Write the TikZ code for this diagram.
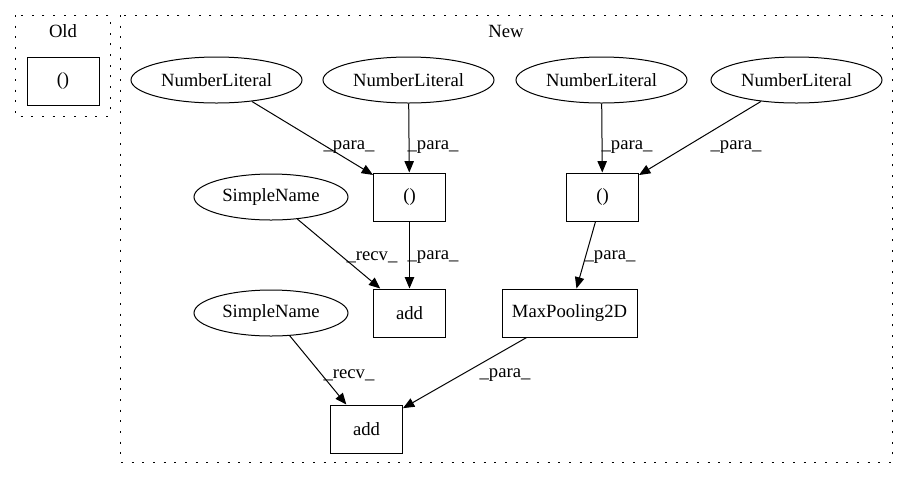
\documentclass[tikz,border=0pt]{standalone}
\usepackage{fontspec}
\setmainfont{Liberation Serif}
\usetikzlibrary{shapes.geometric,arrows.meta}
\begin{document}
\begin{tikzpicture}[x=0.75pt,y=-0.75pt,
  every node/.style={font=\fontsize{14}{16}\selectfont},
  box/.style={draw,line width=0.75pt,rectangle,minimum width=54pt,minimum height=36pt,inner sep=0pt},
  ell/.style={draw,line width=0.75pt,ellipse,minimum width=128.25pt,minimum height=34.5pt,inner sep=0pt},
  sn/.style={ell,minimum width=115.5pt},
  cluster/.style={draw,line width=0.75pt,dash pattern=on 1.5pt off 6.5pt},
  edge/.style={draw,line width=0.75pt,-{Triangle[length=8.5pt,width=7pt]}},
  lbl/.style={inner sep=0pt}]
\useasboundingbox (0,0) rectangle (908,480);
\draw[cluster] (15,15) rectangle (110,116);
\draw[cluster] (120,15) rectangle (892,462);
\node (oldlbl) at (63,31) {Old};
\node (newlbl) at (506,31) {New};
\node[box] (old) at (63,81) {()};
\node[ell] (nl1) at (216.5,80) {NumberLiteral};
\node[ell] (nl2) at (408.5,80) {NumberLiteral};
\node[ell] (nl3) at (601.5,80) {NumberLiteral};
\node[ell] (nl4) at (796.5,80) {NumberLiteral};
\node[box] (t1) at (409.5,197) {()};
\node[box] (t2) at (602.5,197) {()};
\node[sn] (sn1) at (271,197) {SimpleName};
\node[box] (add1) at (409.5,313) {add};
\node[box,minimum width=101.25pt] (mp) at (569.5,313) {MaxPooling2D};
\node[sn] (sn2) at (271,313) {SimpleName};
\node[box] (add2) at (366.5,429) {add};
\draw[edge] (nl1) -- (t1);
\node[lbl] (l1) at (349,147) {\_para\_};
\draw[edge] (nl2) -- (t1);
\node[lbl] (l2) at (433,147) {\_para\_};
\draw[edge] (nl3) -- (t2);
\node[lbl] (l3) at (627,147) {\_para\_};
\draw[edge] (nl4) -- (t2);
\node[lbl] (l4) at (736,147) {\_para\_};
\draw[edge] (sn1) -- (add1);
\node[lbl] (l5) at (372,257) {\_recv\_};
\draw[edge] (t1) -- (add1);
\node[lbl] (l6) at (433,257) {\_para\_};
\draw[edge] (t2) -- (mp);
\node[lbl] (l7) at (610,257) {\_para\_};
\draw[edge] (sn2) -- (add2);
\node[lbl] (l8) at (349,375) {\_recv\_};
\draw[edge] (mp) -- (add2);
\node[lbl] (l9) at (505,375) {\_para\_};
\end{tikzpicture}
\end{document}
